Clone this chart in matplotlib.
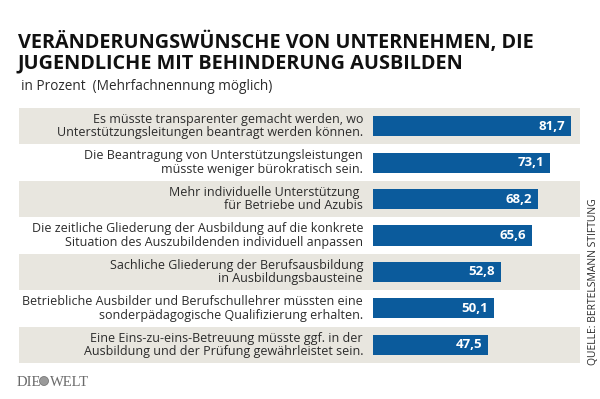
import matplotlib.pyplot as plt
from matplotlib.patches import Circle

# Data
labels = [
    "Es müsste transparenter gemacht werden, wo\nUnterstützungsleitungen beantragt werden können.",
    "Die Beantragung von Unterstützungsleistungen\nmüsste weniger bürokratisch sein.",
    "Mehr individuelle Unterstützung \nfür Betriebe und Azubis",
    "Die zeitliche Gliederung der Ausbildung auf die konkrete\nSituation des Auszubildenden individuell anpassen",
    "Sachliche Gliederung der Berufsausbildung\nin Ausbildungsbausteine",
    "Betriebliche Ausbilder und Berufschullehrer müssten eine\nsonderpädagogische Qualifizierung erhalten.",
    "Eine Eins-zu-eins-Betreuung müsste ggf. in der\nAusbildung und der Prüfung gewährleistet sein.",
]
values = [81.7, 73.1, 68.2, 65.6, 52.8, 50.1, 47.5]

title = "VERÄNDERUNGSWÜNSCHE VON UNTERNEHMEN, DIE\nJUGENDLICHE MIT BEHINDERUNG AUSBILDEN"
subtitle = "in Prozent  (Mehrfachnennung möglich)"
source = "QUELLE: BERTELSMANN STIFTUNG"

BAR = "#0b5b9c"
SHADE = "#e8e6df"
TXT = "#2b2b2b"

W, H = 600, 399
fig = plt.figure(figsize=(6, 3.99), dpi=100)
fig.patch.set_facecolor("white")

# axes in pixel box: x 19..580, y 108..363 (from top)
ax = fig.add_axes([19 / W, 1 - 363 / H, (580 - 19) / W, (363 - 108) / H])
px = 2.42  # pixels per percent
ax.set_xlim(-(373 - 19) / px, (580 - 373) / px)
ax.set_ylim(len(values) - 0.5, -0.5)
ax.axis("off")

for i, (lab, v) in enumerate(zip(labels, values)):
    if i % 2 == 0:
        ax.axhspan(i - 0.5, i + 0.5, color=SHADE, zorder=0, lw=0)
    ax.barh(i, v, height=0.55, color=BAR, zorder=2)
    ax.text(v - 2.5, i, f"{v:.1f}".replace(".", ","), ha="right", va="center",
            color="white", fontsize=9.5, fontweight="bold", family="Open Sans", zorder=3)
    ax.text(-(373 - 363) / px, i, lab, ha="right", va="center", color=TXT,
            fontsize=9.0, family="Open Sans", linespacing=1.05, zorder=3)

# title and subtitle
fig.text(18 / W, 1 - 32 / H, title, ha="left", va="top", fontsize=14.3,
         fontweight="bold", family="Open Sans", color="#111111", linespacing=1.0)
fig.text(21 / W, 1 - 87 / H, subtitle, ha="left", va="center", fontsize=9.8,
         family="Open Sans", color=TXT)

# source, rotated on the right
fig.text(593 / W, 1 - 365 / H, source, rotation=90, ha="center", va="bottom",
         fontsize=7.5, family="Open Sans", color=TXT)

# DIE WELT logo
fig.text(17 / W, 1 - 382 / H, "DIE", ha="left", va="center", fontsize=10.5,
         family="Liberation Serif", color="#6a6a6a")
fig.text(50 / W, 1 - 382 / H, "WELT", ha="left", va="center", fontsize=10.5,
         family="Liberation Serif", color="#6a6a6a")
fig.patches.append(Circle((44 / W * 6, (1 - 381 / H) * 3.99), 0.045,
                          transform=fig.dpi_scale_trans, facecolor="#9a9a9a",
                          edgecolor="#6a6a6a", lw=0.5))

fig.savefig("out.png", dpi=100)
